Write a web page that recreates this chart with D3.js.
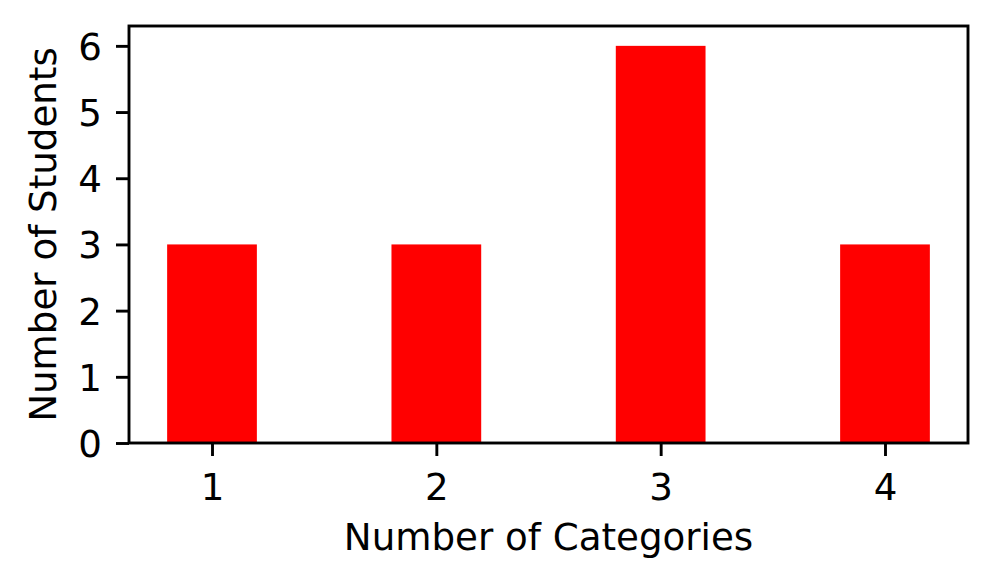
<!DOCTYPE html>
<html><head><meta charset="utf-8">
<script src="https://cdn.jsdelivr.net/npm/d3@7"></script>
<style>body{margin:0;background:#fff}svg{display:block}text{font-family:"DejaVu Sans",sans-serif;fill:#000}</style>
</head><body>
<svg id="c" width="995" height="585"></svg>
<script>
const categories = [1, 2, 3, 4];
const students = [3, 3, 6, 3];
const yTicks = [0, 1, 2, 3, 4, 5, 6];
const xLabel = "Number of Categories";
const yLabel = "Number of Students";

const L = 129, R = 968, T = 26, B = 443;
const barW = 0.4;
const svg = d3.select("#c");
const x = d3.scaleLinear().domain([0.63, 4.37]).range([L, R]);
const y = d3.scaleLinear().domain([0, 6.3]).range([B, T]);

svg.append("g").selectAll("rect").data(categories).join("rect")
  .attr("x", (d) => x(d - barW / 2))
  .attr("width", (d) => x(d + barW / 2) - x(d - barW / 2))
  .attr("y", (d, i) => y(students[i]))
  .attr("height", (d, i) => y(0) - y(students[i]))
  .attr("fill", "#ff0000");

const fs = 37.2;
const xa = svg.append("g").attr("transform", `translate(0,${B})`)
  .call(d3.axisBottom(x).tickValues(categories).tickFormat(d3.format("d")).tickSize(13));
const ya = svg.append("g").attr("transform", `translate(${L},0)`)
  .call(d3.axisLeft(y).tickValues(yTicks).tickFormat(d3.format("d")).tickSize(13));
[xa, ya].forEach(g => {
  g.attr("font-size", null).attr("font-family", null);
  g.select(".domain").remove();
  g.selectAll("line").attr("stroke", "#000").attr("stroke-width", 2.9);
  g.selectAll("text").style("font-size", fs + "px");
});
xa.selectAll("text").attr("y", 500 - B).attr("dy", 0);
ya.selectAll("text").attr("x", -27).attr("dy", "0.36em");

svg.append("rect").attr("x", L).attr("y", T).attr("width", R - L).attr("height", B - T)
  .attr("fill", "none").attr("stroke", "#000").attr("stroke-width", 2.9);

svg.append("text").attr("x", (L + R) / 2).attr("y", 550).attr("text-anchor", "middle")
  .style("font-size", fs + "px").text(xLabel);
svg.append("text").attr("transform", `translate(55.5,${(T + B) / 2}) rotate(-90)`).attr("text-anchor", "middle")
  .style("font-size", fs + "px").text(yLabel);
</script>
</body></html>
